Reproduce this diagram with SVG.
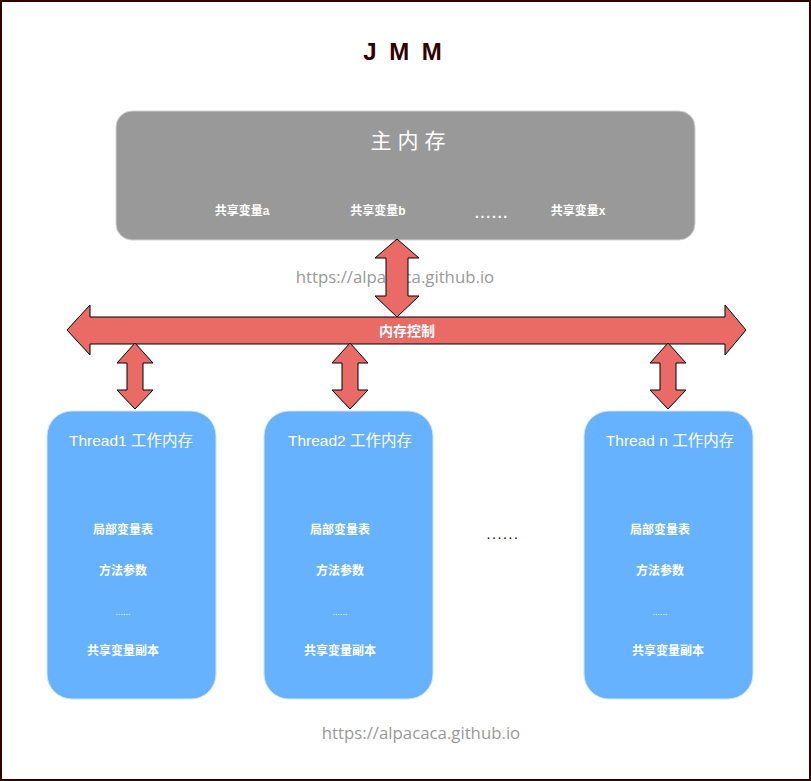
<svg xmlns="http://www.w3.org/2000/svg" width="811" height="781" viewBox="0 0 811 781">
<style>
.cjk{font-family:"Liberation Sans","Noto Sans CJK SC",sans-serif;fill:#fff;text-anchor:middle}
.wm{font-family:"Open Sans","Noto Sans",sans-serif;fill:#999;font-size:16.8px;text-anchor:middle}
.arrow{fill:#ea6b66;stroke:#000;stroke-width:1}
.thread{fill:#66b2ff;stroke:#d0e4f7;stroke-width:1}
.item{font-size:12px;font-weight:bold}
.title{font-size:15.5px}
.dots{font-size:9px}
</style>
<rect x="1" y="1" width="809" height="779" fill="#fff" stroke="#330000" stroke-width="2"/>
<text x="404" y="60" font-family="Liberation Sans,sans-serif" font-size="24" font-weight="bold" fill="#330000" text-anchor="middle" letter-spacing="3">J M M</text>

<g id="main-memory">
<rect x="116" y="111" width="579" height="129" rx="16" fill="#999999" stroke="#d0d0d0"/>
<text class="cjk" x="411" y="148" font-size="21" letter-spacing="6">主内存</text>
<text class="cjk item" x="242" y="215">共享变量a</text>
<text class="cjk item" x="378" y="215">共享变量b</text>
<text class="cjk" x="492" y="218" font-size="14" font-weight="bold" letter-spacing="1.8">......</text>
<text class="cjk item" x="578" y="215">共享变量x</text>
</g>

<text class="wm" x="395" y="283">https://alpacaca.github.io</text>

<g id="connectors">
<path class="arrow" d="M397,239 L419,258 L408,258 L408,296 L419,296 L397,317 L375,296 L386,296 L386,258 L375,258 Z"/>
<g id="memory-control">
<path class="arrow" d="M67,330 L90,305 L90,317 L725,317 L725,305 L746,330 L725,355 L725,344 L90,344 L90,355 Z"/>
<text class="cjk" x="407" y="336" font-size="14" font-weight="bold">内存控制</text>
</g>
<path class="arrow" d="M135,343 L153,363 L143,363 L143,390 L153,390 L135,409 L117,390 L127,390 L127,363 L117,363 Z"/>
<path class="arrow" d="M350,343 L368,363 L358,363 L358,390 L368,390 L350,409 L332,390 L342,390 L342,363 L332,363 Z"/>
<path class="arrow" d="M668,343 L686,363 L676,363 L676,390 L686,390 L668,409 L650,390 L660,390 L660,363 L650,363 Z"/>
</g>

<g id="thread1">
<rect class="thread" x="47" y="411" width="169" height="288" rx="25"/>
<text class="cjk title" x="131" y="446">Thread1 工作内存</text>
<text class="cjk item" x="123" y="534">局部变量表</text>
<text class="cjk item" x="123" y="575">方法参数</text>
<text class="cjk dots" x="123" y="615">......</text>
<text class="cjk item" x="123" y="655">共享变量副本</text>
</g>

<g id="thread2">
<rect class="thread" x="264" y="411" width="169" height="288" rx="25"/>
<text class="cjk title" x="350" y="446">Thread2 工作内存</text>
<text class="cjk item" x="340" y="534">局部变量表</text>
<text class="cjk item" x="340" y="575">方法参数</text>
<text class="cjk dots" x="340" y="615">......</text>
<text class="cjk item" x="340" y="655">共享变量副本</text>
</g>

<text x="503" y="539" font-family="Liberation Sans,sans-serif" font-size="14" fill="#000" text-anchor="middle" letter-spacing="1.6">......</text>

<g id="threadn">
<rect class="thread" x="584" y="411" width="169" height="288" rx="25"/>
<text class="cjk title" x="670" y="446">Thread n 工作内存</text>
<text class="cjk item" x="660" y="534">局部变量表</text>
<text class="cjk item" x="660" y="575">方法参数</text>
<text class="cjk dots" x="660" y="615">......</text>
<text class="cjk item" x="668" y="655">共享变量副本</text>
</g>

<text class="wm" x="421" y="739">https://alpacaca.github.io</text>
</svg>
